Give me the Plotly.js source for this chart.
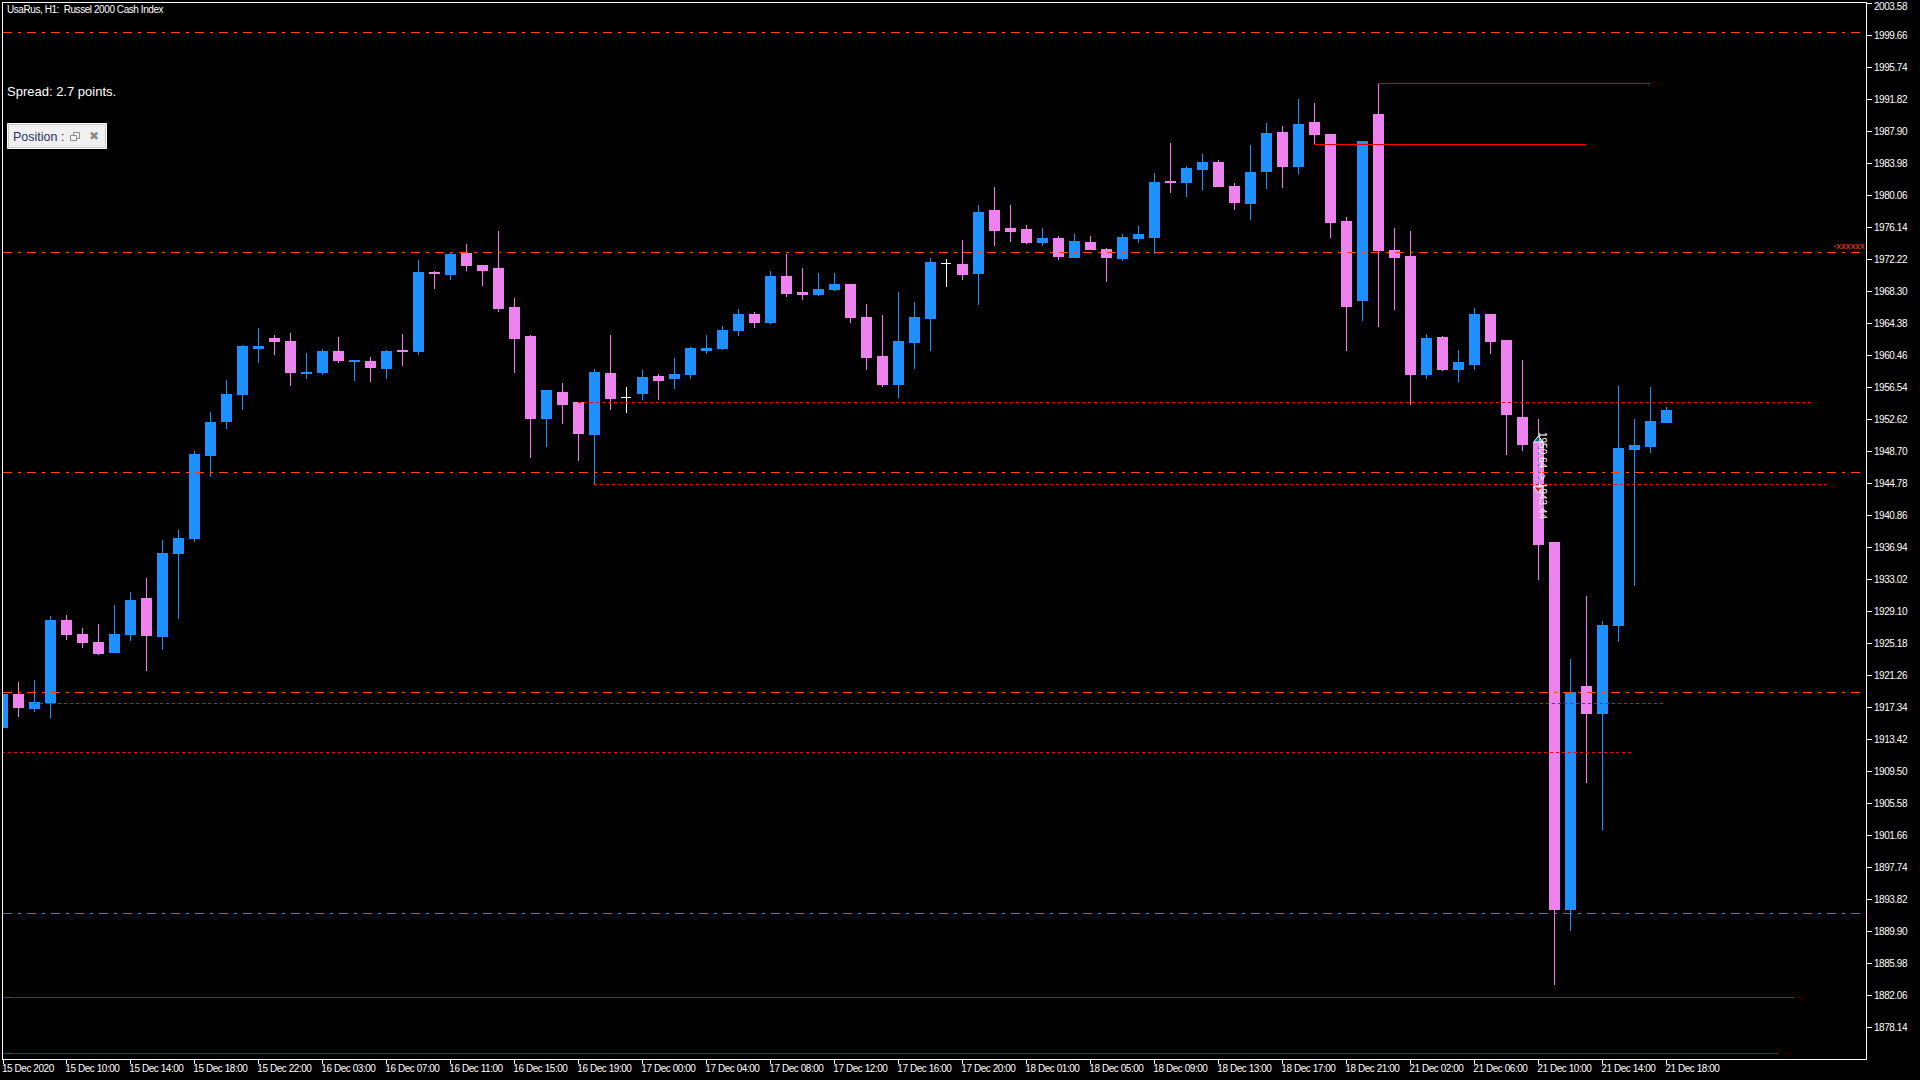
<!DOCTYPE html>
<html>
<head>
<meta charset="utf-8">
<title>UsaRus H1</title>
<script src="https://cdn.plot.ly/plotly-3.0.1.min.js"></script>
<style>
html,body{margin:0;padding:0;background:#000;overflow:hidden}
#chart{width:1920px;height:1080px}
.boxlayer path,.scatterlayer .js-line{shape-rendering:crispEdges}
.xtick text,.ytick text{letter-spacing:-0.45px}
g.xtick{transform:translateX(-2px)}
.annotation[data-index="0"] text{letter-spacing:-0.43px}
</style>
</head>
<body>
<div id="chart"></div>
<script>
const opens = [1914.84,1918.97,1917.17,1917.87,1928.03,1926.32,1925.34,1924.03,1926.23,1930.61,
1925.98,1936.15,1937.99,1948.16,1952.33,1955.63,1961.27,1962.58,1962.21,1958.21,
1958.33,1960.98,1959.76,1959.76,1958.81,1961.10,1960.90,1970.57,1970.30,1972.99,
1971.52,1971.15,1966.37,1962.82,1952.66,1955.96,1954.74,1950.82,1958.29,1955.31,
1955.84,1957.92,1957.56,1958.05,1961.10,1961.35,1963.44,1965.40,1964.54,1970.17,
1968.21,1967.97,1968.58,1969.19,1965.15,1960.37,1956.94,1962.09,1964.91,1971.73,
1971.64,1970.54,1978.14,1976.05,1975.93,1974.34,1974.83,1972.50,1974.34,1973.48,
1972.38,1974.83,1974.95,1981.81,1981.57,1983.28,1984.02,1981.20,1979.00,1983.03,
1987.81,1983.65,1988.92,1987.57,1976.91,1967.23,1989.90,1973.36,1972.62,1958.05,
1962.70,1958.78,1959.39,1965.52,1962.33,1952.90,1949.84,1937.47,1892.63,1919.95,
1916.64,1927.42,1948.98,1949.35,1952.29];
const highs = [1918.85,1920.44,1920.68,1928.52,1928.65,1927.05,1927.54,1929.87,1931.46,1933.18,
1937.83,1939.06,1948.73,1953.51,1957.43,1961.72,1963.80,1962.95,1963.19,1960.74,
1961.23,1962.70,1959.88,1960.25,1961.10,1963.07,1972.13,1970.78,1973.11,1974.09,
1971.52,1975.68,1967.48,1962.95,1956.09,1957.06,1954.74,1958.78,1962.95,1956.57,
1958.66,1958.17,1960.13,1961.48,1962.95,1964.05,1966.13,1965.76,1970.78,1972.87,
1971.15,1970.54,1970.54,1969.19,1966.74,1965.40,1968.21,1966.99,1972.38,1972.26,
1974.58,1978.87,1981.08,1978.87,1976.42,1976.05,1975.07,1975.32,1975.07,1973.60,
1975.32,1976.30,1982.79,1986.47,1983.65,1985.12,1984.38,1981.57,1986.22,1988.92,
1988.55,1991.85,1991.37,1987.57,1977.40,1986.71,1993.78,1976.05,1975.68,1963.07,
1962.82,1961.10,1966.25,1965.52,1962.33,1959.88,1952.66,1937.47,1923.25,1930.97,
1927.91,1956.70,1952.66,1956.57,1954.12];
const lows = [1914.84,1916.19,1916.80,1916.07,1925.62,1924.64,1923.78,1924.03,1925.50,1921.82,
1924.39,1928.19,1937.62,1945.59,1951.47,1953.80,1959.55,1960.53,1956.73,1957.59,
1958.08,1959.55,1957.34,1957.22,1957.59,1959.18,1960.53,1968.58,1969.68,1970.78,
1968.95,1965.76,1958.29,1947.88,1949.23,1952.04,1947.51,1944.69,1953.76,1953.39,
1954.98,1954.98,1956.33,1957.56,1960.62,1961.10,1962.82,1963.80,1964.29,1967.60,
1967.23,1967.72,1968.34,1964.41,1958.66,1956.57,1955.23,1958.78,1960.98,1968.83,
1969.68,1966.62,1973.85,1974.34,1974.09,1973.85,1972.13,1972.50,1973.36,1969.44,
1972.01,1974.22,1972.87,1980.34,1979.85,1980.71,1981.08,1978.26,1977.03,1980.83,
1980.95,1982.67,1986.31,1974.83,1960.98,1964.66,1963.93,1966.01,1954.37,1957.56,
1958.54,1957.19,1958.66,1960.62,1948.25,1948.73,1932.99,1883.37,1889.93,1908.07,
1902.31,1925.34,1932.20,1948.49,1952.29];
const closes = [1918.85,1917.29,1917.87,1928.03,1926.23,1925.25,1923.90,1926.32,1930.48,1926.11,
1936.24,1938.08,1948.25,1952.29,1955.72,1961.48,1961.60,1962.12,1958.33,1958.41,
1960.98,1959.80,1959.88,1958.94,1960.98,1960.90,1970.66,1970.45,1972.87,1971.52,
1970.91,1966.25,1962.58,1952.66,1956.09,1954.49,1950.94,1958.41,1955.23,1955.31,
1957.80,1957.43,1958.17,1961.35,1961.35,1963.56,1965.52,1964.54,1970.17,1968.09,
1967.97,1968.58,1969.19,1965.15,1960.25,1956.94,1962.21,1965.15,1971.77,1971.73,
1970.42,1978.01,1975.81,1975.68,1974.34,1974.71,1972.62,1974.46,1973.48,1972.50,
1974.95,1975.20,1981.69,1981.57,1983.40,1984.02,1981.08,1979.12,1982.91,1987.69,
1983.65,1988.79,1987.45,1976.79,1966.50,1986.71,1973.36,1972.50,1958.05,1962.58,
1958.78,1959.64,1965.40,1962.21,1953.15,1949.59,1937.34,1892.63,1919.21,1916.64,
1927.42,1949.10,1949.47,1952.41,1953.76];

const timeLabels = ["15 Dec 2020","15 Dec 10:00","15 Dec 14:00","15 Dec 18:00","15 Dec 22:00",
"16 Dec 03:00","16 Dec 07:00","16 Dec 11:00","16 Dec 15:00","16 Dec 19:00",
"17 Dec 00:00","17 Dec 04:00","17 Dec 08:00","17 Dec 12:00","17 Dec 16:00","17 Dec 20:00",
"18 Dec 01:00","18 Dec 05:00","18 Dec 09:00","18 Dec 13:00","18 Dec 17:00","18 Dec 21:00",
"21 Dec 02:00","21 Dec 06:00","21 Dec 10:00","21 Dec 14:00","21 Dec 18:00"];
const timeTickIdx = [0,4,8,12,16,20,24,28,32,36,40,44,48,52,56,60,64,68,72,76,80,84,88,92,96,100,104];
const priceTicks = [2003.58,1999.66,1995.74,1991.82,1987.90,1983.98,1980.06,1976.14,1972.22,1968.30,
1964.38,1960.46,1956.54,1952.62,1948.70,1944.78,1940.86,1936.94,1933.02,1929.10,1925.18,1921.26,
1917.34,1913.42,1909.50,1905.58,1901.66,1897.74,1893.82,1889.90,1885.98,1882.06,1878.14];

const fullLevels = [2000.03,1973.08,1946.13,1919.18,1892.08];
const dottedLevels = [1917.83,1911.83,1954.70,1944.66];
const dottedStart = [2,0,36,37];
const dottedEnd = [103.8,101.8,113,114];
const solidLevels = [1993.78,1986.31,1881.78,1874.93];
const solidStart = [86,82,0,0];
const solidEnd = [103,99,112,111];
const solidColors = ["#CC0000","#FF0000","#DD0000","#CC0000"];
const tradeIdx = [96,96];
const tradePrice = [1950.09,1944.10];

const BLUE="#1E90FF", PINK="#EE82EE", ORANGE="#FF4500";
const PL=3,PR=1866,PT=3,PB=1059;
const X0=0.04, X1=X0+(PR-PL)/16, Y0=1874.26, Y1=2003.617;
const xp=x=>(x-PL)/(PR-PL), yp=y=>1-(y-PT)/(PB-PT);

const idx=opens.map((_,i)=>i);
const pick=(a,f)=>a.filter((_,i)=>f(i));
const isDoji=i=>opens[i]===closes[i];
const notDoji=i=>!isDoji(i);
const candle=(f,up,down)=>({type:'candlestick',x:pick(idx,f),open:pick(opens,f),high:pick(highs,f),low:pick(lows,f),close:pick(closes,f),
  increasing:{line:{color:up,width:1},fillcolor:up},decreasing:{line:{color:down,width:1},fillcolor:down},
  whiskerwidth:0,hoverinfo:'skip'});

const traces=[];
fullLevels.forEach(v=>traces.push({type:'scatter',mode:'lines',x:[X0,X1],y:[v,v],line:{color:ORANGE,width:1,dash:'9px,6px,3px,6px'},hoverinfo:'skip'}));
dottedLevels.forEach((v,i)=>traces.push({type:'scatter',mode:'lines',x:[dottedStart[i],dottedEnd[i]],y:[v,v],line:{color:'#FF0000',width:1,dash:'3px,3px'},hoverinfo:'skip'}));
solidLevels.forEach((v,i)=>traces.push({type:'scatter',mode:'lines',x:[solidStart[i],solidEnd[i]],y:[v,v],line:{color:solidColors[i],width:1},hoverinfo:'skip'}));
traces.push(candle(notDoji,BLUE,PINK));
traces.push(candle(isDoji,'#FFFFFF','#FFFFFF'));
traces.push({type:'scatter',mode:'lines',x:tradeIdx,y:tradePrice,line:{color:BLUE,width:1,dash:'3px,3px'},hoverinfo:'skip'});
traces.push({type:'scatter',mode:'markers',x:tradeIdx,y:tradePrice,
  marker:{symbol:['triangle-up','triangle-down'],color:['#0B5FA5','#E02010'],size:8,line:{color:'#FFFFFF',width:1}},hoverinfo:'skip'});

const txt=(text,x,y,size,color,extra)=>Object.assign({xref:'paper',yref:'paper',x:xp(x),y:yp(y),text:text,showarrow:false,
  xanchor:'left',yanchor:'middle',font:{family:'"Liberation Sans",Arial,sans-serif',size:size,color:color},borderpad:0,borderwidth:0,align:'left'},extra||{});

const tickFont={family:'"Liberation Sans",Arial,sans-serif',size:10,color:'#FFF'};
const layout={
  width:1920,height:1080,paper_bgcolor:'#000',plot_bgcolor:'#000',showlegend:false,hovermode:false,
  margin:{l:PL,r:1920-PR,t:PT,b:1080-PB,pad:0},boxgap:0.375,boxgroupgap:0,boxmode:'overlay',
  xaxis:{type:'linear',range:[X0,X1],rangeslider:{visible:false},showgrid:false,zeroline:false,
    showline:true,mirror:true,linecolor:'#FFF',linewidth:1,ticks:'outside',ticklen:4,tickwidth:1,tickcolor:'#FFF',
    tickmode:'array',tickvals:timeTickIdx.map(v=>Math.max(v,X0)),ticktext:timeLabels,ticklabelposition:'outside right',ticklabeloverflow:'allow',tickangle:0,
    tickfont:tickFont},
  yaxis:{type:'linear',side:'right',range:[Y0,Y1],showgrid:false,zeroline:false,
    showline:true,mirror:true,linecolor:'#FFF',linewidth:1,ticks:'outside',ticklen:5,tickwidth:1,tickcolor:'#FFF',
    tickmode:'array',tickvals:priceTicks,ticktext:priceTicks.map(v=>v.toFixed(2)),ticklabeloverflow:'allow',
    tickfont:tickFont},
  shapes:[
    {type:'rect',xref:'paper',yref:'paper',x0:xp(7.5),x1:xp(106.5),y0:yp(123.5),y1:yp(148.5),fillcolor:'#F0F0F0',line:{color:'#FFFFFF',width:1},layer:'above'},
    {type:'rect',xref:'paper',yref:'paper',x0:xp(8.5),x1:xp(105.5),y0:yp(124.5),y1:yp(147.5),fillcolor:'#F0F0F0',line:{color:'#C8C8C8',width:1},layer:'above'},
    {type:'rect',xref:'paper',yref:'paper',x0:xp(73.5),x1:xp(79.5),y0:yp(132.5),y1:yp(138.5),fillcolor:'rgba(0,0,0,0)',line:{color:'#8C8C8C',width:1},layer:'above'},
    {type:'rect',xref:'paper',yref:'paper',x0:xp(70.5),x1:xp(76.5),y0:yp(135.5),y1:yp(140.5),fillcolor:'#F0F0F0',line:{color:'#8C8C8C',width:1},layer:'above'}
  ],
  annotations:[
    txt('UsaRus, H1:  Russel 2000 Cash Index',7,9.5,10,'#FFFFFF'),
    txt('Spread: 2.7 points.',7,91.5,13,'#FFFFFF'),
    txt('Position :',13,136.5,12.5,'#2A3060'),
    txt('✖',89,136,12,'#8C8C8C'),
    txt('-xxxxxx',1833,245.5,9.5,ORANGE),
    {xref:'paper',yref:'paper',x:xp(1543),y:yp(475),text:'1950.64 -> 1943.44',textangle:90,showarrow:false,xanchor:'center',yanchor:'middle',
     font:{family:'"Liberation Sans",sans-serif',size:10,color:'#FFFFFF'}}
  ]
};
Plotly.newPlot('chart',traces,layout,{displayModeBar:false,staticPlot:true}).then(()=>{
  document.querySelectorAll('g.ytick').forEach(g=>{
    if(g.textContent.trim()==='2003.58') g.style.transform='translateY(3px)';
  });
});
</script>
</body>
</html>
